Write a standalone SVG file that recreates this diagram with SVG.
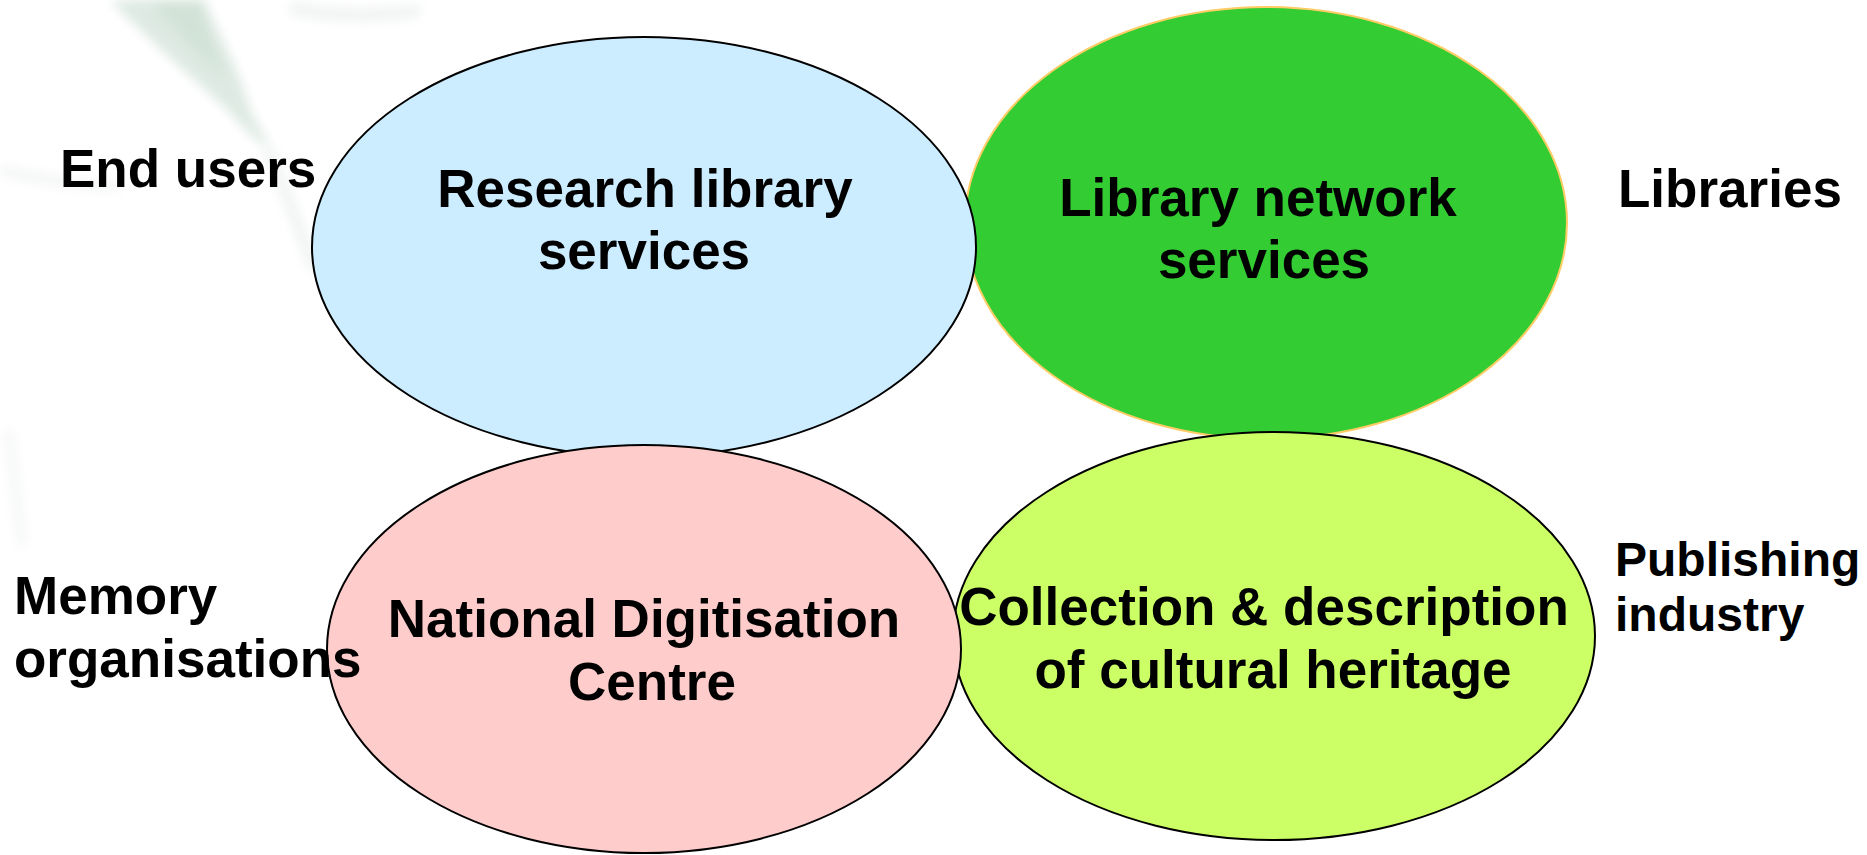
<svg xmlns="http://www.w3.org/2000/svg" width="1867" height="855" viewBox="0 0 1867 855">
  <defs>
    <filter id="soft" x="-20%" y="-20%" width="140%" height="140%">
      <feGaussianBlur stdDeviation="6"/>
    </filter>
  </defs>
  <style>
    .lbl { font-family: "Liberation Sans", Arial, sans-serif; font-weight: bold; font-size: 53px; fill: #000000; }
    .small { font-size: 48px; }
    .mid { text-anchor: middle; }
    .ell { stroke: #000000; stroke-width: 2; }
  </style>
  <rect width="1867" height="855" fill="#FFFFFF"/>
  <g id="watermark" filter="url(#soft)">
    <path d="M110,0 L205,0 C215,30 235,60 245,95 C250,115 262,130 272,150 C255,140 240,125 228,110 C195,80 150,40 110,0 Z" fill="#DDE9E2"/>
    <path d="M150,0 L200,0 C205,25 215,50 225,75 C200,55 175,30 150,0 Z" fill="#D2E2D8"/>
    <path d="M268,150 C285,190 300,230 315,270" fill="none" stroke="#EDF2EF" stroke-width="10"/>
    <path d="M290,8 C330,16 370,18 420,10" fill="none" stroke="#EEF3F0" stroke-width="12"/>
    <path d="M0,170 C40,180 80,185 120,186" fill="none" stroke="#F2F5F3" stroke-width="10"/>
    <path d="M8,430 C14,470 18,510 22,545" fill="none" stroke="#F3F5F4" stroke-width="8"/>
  </g>
  <g id="connectors"></g>
  <g id="node-library-network">
    <ellipse cx="1266" cy="223" rx="301" ry="216" fill="#33CC33" stroke="#FFCC66" stroke-width="2"/>
    <text class="lbl mid" x="1258" y="216">Library network</text>
    <text class="lbl mid" x="1264" y="278">services</text>
  </g>
  <g id="node-research-library">
    <ellipse class="ell" cx="644" cy="247" rx="332" ry="210" fill="#CCECFF"/>
    <text class="lbl mid" x="645" y="207">Research library</text>
    <text class="lbl mid" x="644" y="269">services</text>
  </g>
  <g id="node-collection">
    <ellipse class="ell" cx="1274" cy="636" rx="321" ry="204" fill="#CCFF66"/>
    <text class="lbl mid" x="1264" y="625">Collection &amp; description</text>
    <text class="lbl mid" x="1273" y="688">of cultural heritage</text>
  </g>
  <g id="node-digitisation">
    <ellipse class="ell" cx="644" cy="649" rx="317" ry="204" fill="#FFCCCC"/>
    <text class="lbl mid" x="644" y="637">National Digitisation</text>
    <text class="lbl mid" x="652" y="700">Centre</text>
  </g>
  <g id="label-end-users">
    <text class="lbl" x="60" y="187">End users</text>
  </g>
  <g id="label-libraries">
    <text class="lbl" x="1618" y="207">Libraries</text>
  </g>
  <g id="label-memory">
    <text class="lbl" x="14" y="614">Memory</text>
    <text class="lbl" x="14" y="677">organisations</text>
  </g>
  <g id="label-publishing">
    <text class="lbl small" x="1615" y="576">Publishing</text>
    <text class="lbl small" x="1615" y="631">industry</text>
  </g>
</svg>
